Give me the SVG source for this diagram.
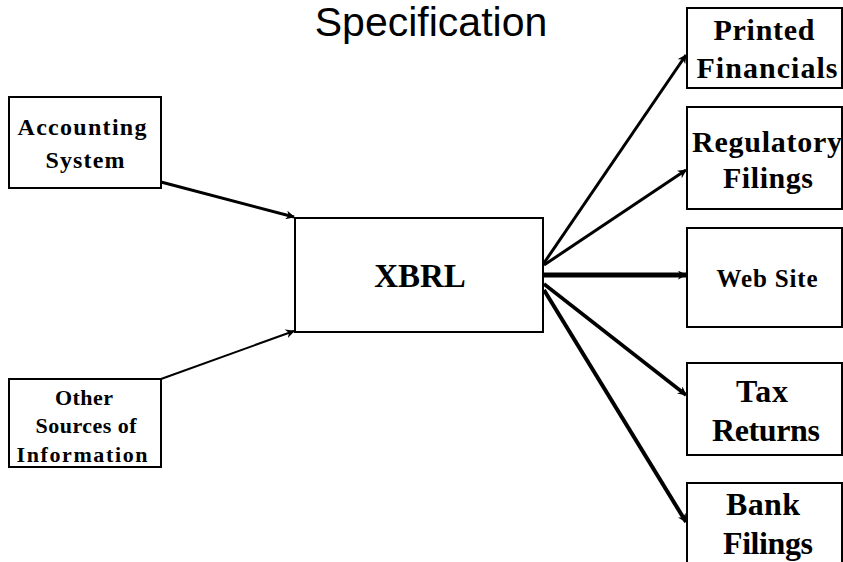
<svg xmlns="http://www.w3.org/2000/svg" width="843" height="562" viewBox="0 0 843 562">
<defs>
<marker id="ah" viewBox="0 0 10 10" refX="9" refY="5" markerWidth="9" markerHeight="9" markerUnits="userSpaceOnUse" orient="auto">
<path d="M0,0 L10,5 L0,10 L3,5 z" fill="#000"/>
</marker>
<style>
.box{fill:#fff;stroke:#000;stroke-width:2}
.t{font-family:"Liberation Serif","Times New Roman",serif;font-weight:bold;fill:#000;text-anchor:middle}
.c{stroke:#000;fill:none;marker-end:url(#ah)}
</style>
</defs>
<rect width="843" height="562" fill="#fff"/>
<text x="431" y="36" font-family="Liberation Sans, Arial, sans-serif" font-size="41" text-anchor="middle" fill="#000">Specification</text>
<g id="connectors">
<line class="c" x1="161" y1="182" x2="294" y2="217" stroke-width="3"/>
<line class="c" x1="161" y1="379" x2="294" y2="331" stroke-width="2"/>
<line class="c" x1="544" y1="263" x2="686" y2="55" stroke-width="3"/>
<line class="c" x1="544" y1="265" x2="686" y2="170" stroke-width="3"/>
<line class="c" x1="544" y1="275" x2="686" y2="275" stroke-width="5"/>
<line class="c" x1="544" y1="284" x2="686" y2="395" stroke-width="3.5"/>
<line class="c" x1="544" y1="290" x2="686" y2="522" stroke-width="4"/>
</g>
<g id="accounting">
<rect class="box" x="9" y="97" width="152" height="91"/>
<text class="t" x="82" y="135" font-size="24" textLength="129" lengthAdjust="spacing">Accounting</text>
<text class="t" x="85" y="168" font-size="24" textLength="79" lengthAdjust="spacing">System</text>
</g>
<g id="other">
<rect class="box" x="9" y="379" width="152" height="88"/>
<text class="t" x="84" y="405" font-size="22" textLength="58" lengthAdjust="spacing">Other</text>
<text class="t" x="86" y="433" font-size="22" textLength="101" lengthAdjust="spacing">Sources of</text>
<text class="t" x="82" y="462" font-size="22" textLength="131" lengthAdjust="spacing">Information</text>
</g>
<g id="xbrl">
<rect class="box" x="295" y="218" width="248" height="114"/>
<text class="t" x="420" y="287" font-size="33">XBRL</text>
</g>
<g id="printed">
<rect class="box" x="687" y="8" width="155" height="80"/>
<text class="t" x="764" y="40" font-size="30" textLength="101" lengthAdjust="spacing">Printed</text>
<text class="t" x="767" y="78" font-size="30" textLength="141" lengthAdjust="spacing">Financials</text>
</g>
<g id="regulatory">
<rect class="box" x="687" y="107" width="155" height="102"/>
<text class="t" x="767" y="152" font-size="30" textLength="150" lengthAdjust="spacing">Regulatory</text>
<text class="t" x="768" y="188" font-size="30" textLength="90" lengthAdjust="spacing">Filings</text>
</g>
<g id="website">
<rect class="box" x="687" y="228" width="155" height="99"/>
<text class="t" x="767" y="287" font-size="25" textLength="101" lengthAdjust="spacing">Web Site</text>
</g>
<g id="tax">
<rect class="box" x="687" y="363" width="155" height="92"/>
<text class="t" x="762" y="402" font-size="32" textLength="52" lengthAdjust="spacing">Tax</text>
<text class="t" x="766" y="441" font-size="32" textLength="108" lengthAdjust="spacing">Returns</text>
</g>
<g id="bank">
<rect class="box" x="687" y="483" width="155" height="90"/>
<text class="t" x="763" y="515" font-size="32" textLength="74" lengthAdjust="spacing">Bank</text>
<text class="t" x="768" y="554" font-size="32" textLength="90" lengthAdjust="spacing">Filings</text>
</g>
</svg>
